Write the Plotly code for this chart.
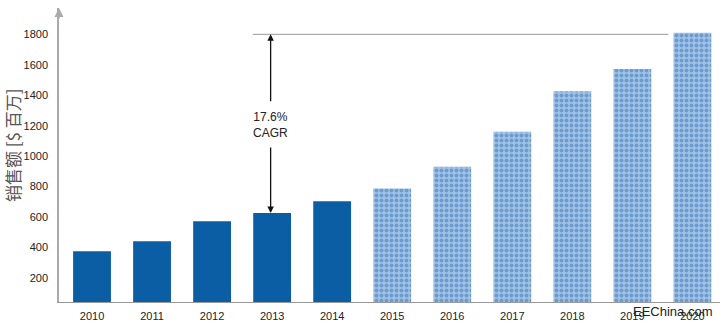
import plotly.graph_objects as go

years = ["2010", "2011", "2012", "2013", "2014", "2015", "2016", "2017", "2018", "2019", "2020"]
actual_years = years[:5]
actual_sales = [376, 441, 573, 627, 704]
forecast_years = years[5:]
forecast_sales = [788, 930, 1161, 1427, 1572, 1810]
y_ticks = [200, 400, 600, 800, 1000, 1200, 1400, 1600, 1800]
cagr_text = "17.6%<br>CAGR"
cagr_top = 1800
y_title = "销售额 [$ 百万]"
watermark = "EEChina.com"

FONT = "Liberation Sans, Arial, sans-serif"
CJK = "Noto Sans CJK SC, sans-serif"

fig = go.Figure()
fig.add_trace(go.Bar(x=actual_years, y=actual_sales, width=0.63,
                     marker=dict(color="#0b5ea4", line=dict(width=0))))
fig.add_trace(go.Bar(x=forecast_years, y=forecast_sales, width=0.63,
                     marker=dict(color="#8fb5dc", line=dict(width=0),
                                 pattern=dict(shape=".", fgcolor="#3373b9", bgcolor="#a2c2e5",
                                              size=5, solidity=0.5))))

idx13 = years.index("2013")
ax_x = idx13 - 0.025
# horizontal reference line at CAGR top
fig.add_shape(type="line", x0=idx13 - 0.32, x1=9.6, y0=cagr_top, y1=cagr_top,
              xref="x", yref="y", line=dict(color="#999999", width=1))
# upper arrow
fig.add_annotation(x=ax_x, y=cagr_top, ax=ax_x, ay=1350, xref="x", yref="y", axref="x", ayref="y",
                   showarrow=True, arrowhead=2, arrowsize=1, arrowwidth=1.3, arrowcolor="#111111", text="")
# lower arrow
fig.add_annotation(x=ax_x, y=actual_sales[idx13], ax=ax_x, ay=1066, xref="x", yref="y", axref="x", ayref="y",
                   showarrow=True, arrowhead=2, arrowsize=1, arrowwidth=1.3, arrowcolor="#111111", text="")
fig.add_annotation(x=ax_x, y=1207, xref="x", yref="y", text=cagr_text, showarrow=False,
                   font=dict(family=FONT, size=12, color="#222222"), align="center")
# y-axis arrow head
fig.add_annotation(x=0, y=1.0, xref="paper", yref="paper", ax=0, ay=12, axref="pixel", ayref="pixel",
                   showarrow=True, arrowhead=2, arrowsize=1.2, arrowwidth=1.5, arrowcolor="#aaaaaa", text="")
# y title
fig.add_annotation(x=0, y=0.534, xref="paper", yref="paper", xanchor="center", yanchor="middle",
                   xshift=-47, text=y_title, textangle=-90,
                   showarrow=False, font=dict(family=CJK, size=17, color="#555555"))
# watermark
fig.add_annotation(x=0.991, y=-0.033, xref="paper", yref="paper", xanchor="right", yanchor="middle",
                   text=watermark, showarrow=False, font=dict(family=FONT, size=13, color="#222222"))

fig.update_layout(
    width=720, height=323, margin=dict(l=59, r=0, t=8, b=21),
    paper_bgcolor="white", plot_bgcolor="white", showlegend=False, barmode="overlay",
    font=dict(family=FONT, size=11, color="#333333"),
)
fig.update_xaxes(type="category", categoryorder="array", categoryarray=years,
                 range=[-0.55, 10.46], showgrid=False, showline=True, linecolor="#999999", linewidth=1.2,
                 ticks="", ticklabelstandoff=4, tickfont=dict(size=11, color="#222222"), zeroline=False)
fig.update_yaxes(range=[42, 1973], tickvals=y_ticks, showgrid=False, showline=True,
                 linecolor="#aaaaaa", linewidth=1.5, ticks="", ticklabelstandoff=7,
                 tickfont=dict(size=11, color="#222222"), zeroline=False)

fig.write_html("out.html")
